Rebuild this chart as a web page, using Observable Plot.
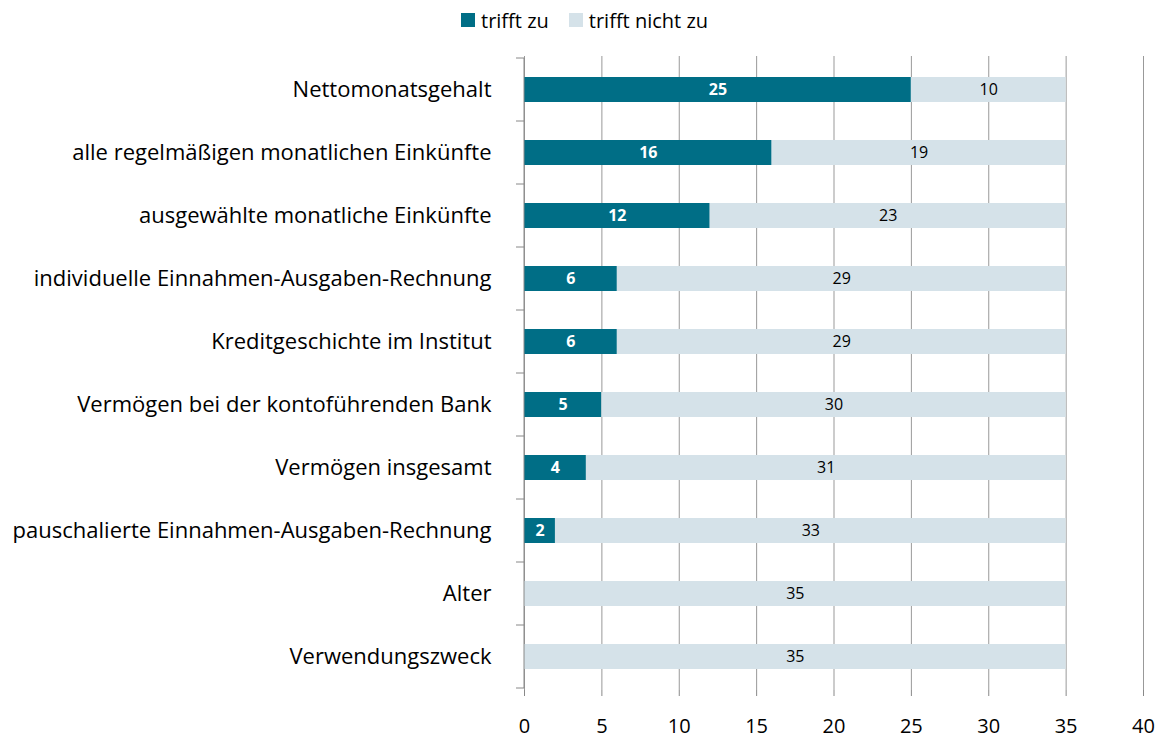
<!DOCTYPE html>
<html>
<head>
<meta charset="utf-8">
<script src="https://cdn.jsdelivr.net/npm/d3@7"></script>
<script src="https://cdn.jsdelivr.net/npm/@observablehq/plot@0.6"></script>
<style>
  html, body { margin: 0; padding: 0; background: #fff; }
  body { width: 1163px; height: 738px; overflow: hidden; font-family: "Open Sans", sans-serif; }
  #legend { height: 40px; display: flex; justify-content: flex-start; align-items: center; padding-left: 461px; font-size: 20px; color: #000; box-sizing: border-box; }
  .item { display: flex; align-items: center; margin-right: 20px; }
  .sw { width: 14px; height: 14px; margin-right: 6px; }
  svg { display: block; }
</style>
</head>
<body>
<div id="legend"></div>
<div id="chart"></div>
<script>
const categories = [
  "Nettomonatsgehalt",
  "alle regelmäßigen monatlichen Einkünfte",
  "ausgewählte monatliche Einkünfte",
  "individuelle Einnahmen-Ausgaben-Rechnung",
  "Kreditgeschichte im Institut",
  "Vermögen bei der kontoführenden Bank",
  "Vermögen insgesamt",
  "pauschalierte Einnahmen-Ausgaben-Rechnung",
  "Alter",
  "Verwendungszweck"
];
const series = ["trifft zu", "trifft nicht zu"];
const triffZu = [25, 16, 12, 6, 6, 5, 4, 2, 0, 0];
const triffNichtZu = [10, 19, 23, 29, 29, 30, 31, 33, 35, 35];
const xTicks = [0, 5, 10, 15, 20, 25, 30, 35, 40];
const colors = ["#006E86", "#D5E2E9"];

const data = [];
categories.forEach((c, i) => {
  data.push({cat: c, series: series[0], value: triffZu[i]});
  data.push({cat: c, series: series[1], value: triffNichtZu[i]});
});

// legend
const leg = document.getElementById("legend");
series.forEach((s, i) => {
  const it = document.createElement("div");
  it.className = "item";
  it.innerHTML = `<span class="sw" style="background:${colors[i]}"></span><span>${s}</span>`;
  leg.appendChild(it);
});

const boundaryTicks = (index, scales, values, dimensions) => {
  const y = scales.y;
  const step = y.step();
  const off = (step - y.bandwidth()) / 2;
  const g = d3.create("svg:g");
  const ys = categories.map(c => y(c) - off);
  ys.push(y(categories[categories.length - 1]) + y.bandwidth() + off);
  const x0 = dimensions.marginLeft;
  ys.forEach(v => {
    g.append("line").attr("x1", x0 - 8).attr("x2", x0).attr("y1", v).attr("y2", v)
      .attr("stroke", "#888").attr("stroke-width", 1);
  });
  g.append("line").attr("x1", x0).attr("x2", x0).attr("y1", ys[0]).attr("y2", ys[ys.length - 1])
    .attr("stroke", "#888").attr("stroke-width", 1);
  return g.node();
};

const chart = Plot.plot({
  width: 1163,
  height: 698,
  marginTop: 16,
  marginBottom: 48,
  marginLeft: 524,
  marginRight: 20,
  style: {fontFamily: "'Open Sans', sans-serif", fontSize: "20px", color: "#000", background: "#fff"},
  x: {domain: [0, 40], ticks: xTicks, label: null},
  y: {domain: categories, paddingInner: 0.6, paddingOuter: 0.3, label: null},
  color: {domain: series, range: colors},
  marks: [
    Plot.gridX(xTicks, {stroke: "#999", strokeOpacity: 1}),
    Plot.barX(data, Plot.stackX({x: "value", y: "cat", fill: "series", order: series})),
    Plot.text(data.filter(d => d.value > 0 && d.series === series[0]), Plot.stackX({x: "value", y: "cat", z: "series", order: series, text: d => String(d.value), fill: "#fff", fontWeight: "bold", fontSize: 16})),
    Plot.text(data, Plot.stackX({x: "value", y: "cat", z: "series", order: series, text: d => d.series === series[1] && d.value > 0 ? String(d.value) : "", fill: "#000", fontSize: 16})),
    Plot.ruleY([0], {frameAnchor: "bottom", stroke: "#888"}),
    Plot.axisX(xTicks, {tickSize: 6, tickPadding: 22, stroke: "#888", fill: "#000", fontSize: 20}),
    Plot.axisY({tickSize: 0, tickPadding: 33, fontSize: 22, fill: "#000"}),
    boundaryTicks
  ]
});
document.getElementById("chart").appendChild(chart);
</script>
</body>
</html>
